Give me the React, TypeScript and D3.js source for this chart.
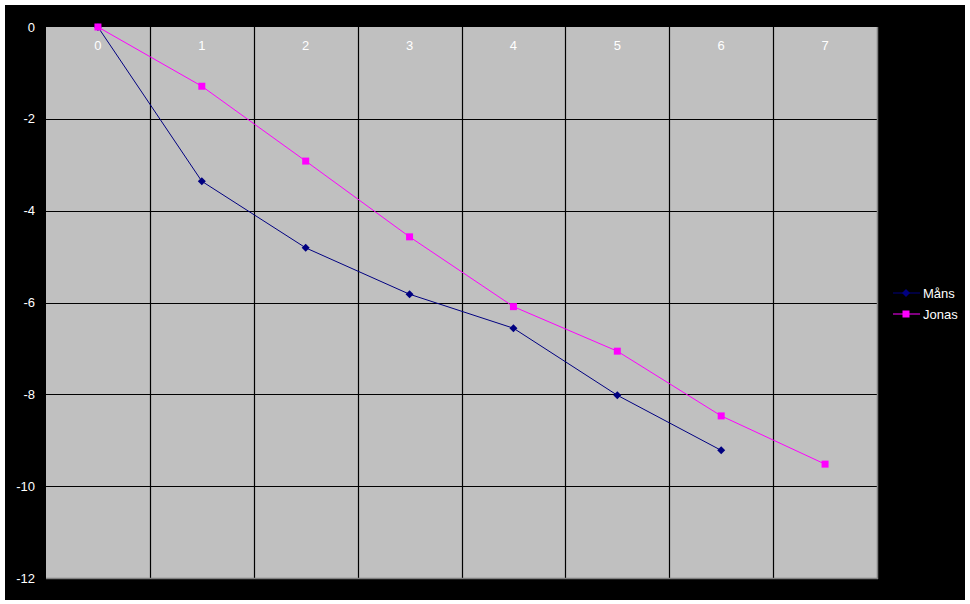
import React from "react";
import * as d3 from "d3";

const categories = ["0", "1", "2", "3", "4", "5", "6", "7"];
const mansValues = [0, -3.36, -4.81, -5.82, -6.56, -8.02, -9.22];
const jonasValues = [0, -1.29, -2.92, -4.57, -6.09, -7.06, -8.47, -9.52];
const yTicks = [0, -2, -4, -6, -8, -10, -12];
const seriesNames = ["Måns", "Jonas"];

const W = 970;
const H = 604;
const plot = { left: 46, top: 27, right: 877, bottom: 578 };

export default function App() {
  const x = d3
    .scaleBand<string>()
    .domain(categories)
    .range([plot.left, plot.right])
    .paddingInner(0)
    .paddingOuter(0);
  const y = d3.scaleLinear().domain([0, -12]).range([plot.top, plot.bottom]);
  const cx = (i: number) => (x(categories[i]) as number) + x.bandwidth() / 2;

  const line = d3
    .line<number>()
    .x((_, i) => cx(i))
    .y((d) => y(d));

  const font = "Arial, 'Liberation Sans', sans-serif";
  const mansColor = "#000080";
  const jonasColor = "#ff00ff";

  const diamond = (px: number, py: number, s = 4) =>
    `M${px},${py - s}L${px + s},${py}L${px},${py + s}L${px - s},${py}Z`;

  return (
    <svg
      width={W}
      height={H}
      style={{ position: "absolute", left: 0, top: 0, background: "#fff" }}
      fontFamily={font}
    >
      <rect x={5} y={5} width={960} height={595} fill="#000" />
      <rect
        x={plot.left}
        y={plot.top}
        width={plot.right - plot.left}
        height={plot.bottom - plot.top}
        fill="#c0c0c0"
      />
      {yTicks
        .filter((t) => t !== 0 && t !== -12)
        .map((t) => (
          <line
            key={"h" + t}
            x1={plot.left}
            x2={plot.right}
            y1={Math.round(y(t)) + 0.5}
            y2={Math.round(y(t)) + 0.5}
            stroke="#000"
            strokeWidth={1.2}
          />
        ))}
      {categories.slice(1).map((c) => (
        <line
          key={"v" + c}
          x1={Math.round(x(c) as number) + 0.5}
          x2={Math.round(x(c) as number) + 0.5}
          y1={plot.top}
          y2={plot.bottom}
          stroke="#000"
          strokeWidth={1.2}
        />
      ))}
      <line x1={plot.right + 0.5} x2={plot.right + 0.5} y1={plot.top} y2={plot.bottom + 1} stroke="#808080" strokeWidth={1.5} />
      <line x1={plot.left} x2={plot.right + 1} y1={plot.bottom + 0.5} y2={plot.bottom + 0.5} stroke="#808080" strokeWidth={1.5} />

      {yTicks.map((t) => (
        <text
          key={"yt" + t}
          x={35}
          y={y(t)}
          dy="0.35em"
          textAnchor="end"
          fill="#fff"
          fontSize={13}
        >
          {t}
        </text>
      ))}
      {categories.map((c, i) => (
        <text
          key={"xt" + c}
          x={cx(i)}
          y={plot.top + 23}
          textAnchor="middle"
          fill="#fff"
          fontSize={13}
        >
          {c}
        </text>
      ))}

      <path d={line(mansValues) || ""} fill="none" stroke={mansColor} strokeWidth={1} />
      <path d={line(jonasValues) || ""} fill="none" stroke={jonasColor} strokeWidth={1} />
      {mansValues.map((v, i) => (
        <path key={"m" + i} d={diamond(cx(i), y(v))} fill={mansColor} />
      ))}
      {jonasValues.map((v, i) => (
        <rect
          key={"j" + i}
          x={cx(i) - 3.5}
          y={y(v) - 3.5}
          width={7}
          height={7}
          fill={jonasColor}
        />
      ))}

      {seriesNames.map((name, i) => {
        const ly = 293 + i * 21;
        const color = i === 0 ? mansColor : jonasColor;
        return (
          <g key={"lg" + name}>
            <line x1={893} x2={920} y1={ly} y2={ly} stroke={color} strokeWidth={1} />
            {i === 0 ? (
              <path d={diamond(906, ly)} fill={color} />
            ) : (
              <rect x={902.5} y={ly - 3.5} width={7} height={7} fill={color} />
            )}
            <text x={923} y={ly} dy="0.35em" fill="#fff" fontSize={13}>
              {name}
            </text>
          </g>
        );
      })}
    </svg>
  );
}
